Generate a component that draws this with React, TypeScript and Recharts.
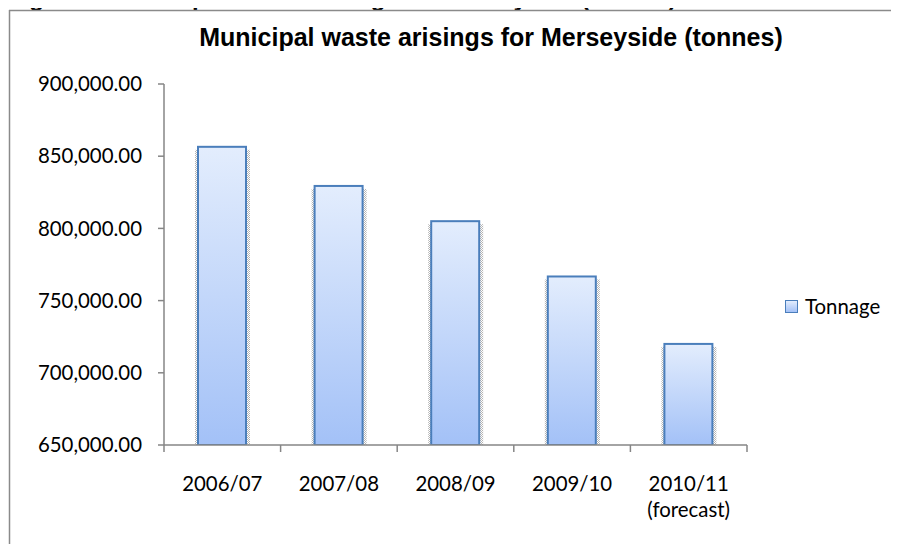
import React from 'react';
import { BarChart, Bar, XAxis, YAxis, Legend } from 'recharts';

const categories = ['2006/07', '2007/08', '2008/09', '2009/10', '2010/11\n(forecast)'];
const tonnage = [856500, 829400, 805000, 766700, 720000];
const yTicks = [650000, 700000, 750000, 800000, 850000, 900000];
const seriesName = 'Tonnage';
const chartTitle = 'Municipal waste arisings for Merseyside (tonnes)';
const caption = 'Figure 1: Municipal waste arisings for Merseyside (tonnes)';

const data = categories.map((c, i) => ({ year: c, Tonnage: tonnage[i] }));

const AXIS = '#868686';
const FONT = 'Lato, "Open Sans", sans-serif';
const TICK_FS = 20.4;

const fmt = (v: number) =>
  v.toLocaleString('en-US', { minimumFractionDigits: 2, maximumFractionDigits: 2 });

const BarShape = (props: any) => {
  const { x, y, width, height } = props;
  return (
    <g>
      <rect x={x - 3} y={y + 3} width={width + 7} height={height - 1} fill="url(#shadowPat)" />
      <rect x={x} y={y} width={width} height={height} fill="url(#barGrad)" stroke="#4a7ebb" strokeWidth={2} />
    </g>
  );
};

const XTick = (props: any) => {
  const { x, y, payload, index, visibleTicksCount } = props;
  const half = payload && payload.offset ? payload.offset : 0;
  const lines = String(payload.value).split('\n');
  return (
    <g>
      <line x1={x - half} y1={y} x2={x - half} y2={y + 7} stroke={AXIS} strokeWidth={1.5} />
      {index === visibleTicksCount - 1 && (
        <line x1={x + half} y1={y} x2={x + half} y2={y + 7} stroke={AXIS} strokeWidth={1.5} />
      )}
      <text x={x} y={y + 46} textAnchor="middle" fontFamily={FONT} fontSize={TICK_FS} fill="#000">
        {lines.map((l, i) => (
          <tspan key={i} x={x} dy={i === 0 ? 0 : 26}>
            {l}
          </tspan>
        ))}
      </text>
    </g>
  );
};

const LegendContent = () => (
  <div
    style={{
      display: 'flex',
      alignItems: 'center',
      fontFamily: FONT,
      fontSize: TICK_FS,
      color: '#000',
      height: 30,
      whiteSpace: 'nowrap',
    }}
  >
    <div
      style={{
        width: 11,
        height: 11,
        border: '1.5px solid #4a7ebb',
        background: 'linear-gradient(#e3edfd, #a3c1f7)',
        marginRight: 7,
        marginLeft: 1,
      }}
    />
    <span>{seriesName}</span>
  </div>
);

export default function App() {
  return (
    <div
      style={{
        position: 'relative',
        width: 899,
        height: 544,
        marginLeft: -8,
        marginTop: -8,
        overflow: 'hidden',
        background: '#fff',
      }}
    >
      <BarChart
        width={899}
        height={544}
        data={data}
        margin={{ top: 84, right: 42, bottom: 29, left: 64 }}
      >
        <defs>
          <linearGradient id="barGrad" x1="0" y1="0" x2="0" y2="1">
            <stop offset="0%" stopColor="#e3edfd" />
            <stop offset="100%" stopColor="#a3c1f7" />
          </linearGradient>
          <pattern id="shadowPat" width="2" height="2" patternUnits="userSpaceOnUse">
            <rect x="0" y="0" width="1" height="1" fill="#b4b4b4" />
            <rect x="1" y="1" width="1" height="1" fill="#b4b4b4" />
          </pattern>
        </defs>
        <XAxis
          dataKey="year"
          interval={0}
          height={70}
          tickSize={0}
          tickMargin={0}
          tickLine={false}
          axisLine={{ stroke: AXIS, strokeWidth: 1.5 }}
          tick={<XTick />}
        />
        <YAxis
          width={100}
          domain={[650000, 900000]}
          ticks={yTicks}
          tickFormatter={fmt}
          tickSize={6}
          tickMargin={16}
          axisLine={{ stroke: AXIS, strokeWidth: 1.5 }}
          tickLine={{ stroke: AXIS, strokeWidth: 1.5 }}
          tick={{ fill: '#000', fontFamily: FONT, fontSize: TICK_FS }}
          allowDataOverflow
        />
        <Legend
          layout="vertical"
          align="right"
          verticalAlign="middle"
          width={110}
          wrapperStyle={{ left: 784, top: 291 }}
          content={<LegendContent />}
        />
        <Bar dataKey="Tonnage" name={seriesName} barSize={48} shape={<BarShape />} isAnimationActive={false} />
      </BarChart>
      <svg
        width={899}
        height={544}
        style={{ position: 'absolute', left: 0, top: 0, pointerEvents: 'none' }}
      >
        <text x={8} y={6} fontFamily='"Liberation Sans", Arial, sans-serif' fontWeight="bold" fontSize={24} fill="#000">
          {caption}
        </text>
        <line x1={9} y1={10.5} x2={899} y2={10.5} stroke="#8a8a8a" strokeWidth={1.5} />
        <line x1={9.5} y1={10} x2={9.5} y2={544} stroke="#8a8a8a" strokeWidth={1.5} />
        <text
          x={491}
          y={46}
          textAnchor="middle"
          fontFamily='"Liberation Sans", Arial, sans-serif'
          fontWeight="bold"
          fontSize={25}
          fill="#000"
        >
          {chartTitle}
        </text>
      </svg>
    </div>
  );
}
